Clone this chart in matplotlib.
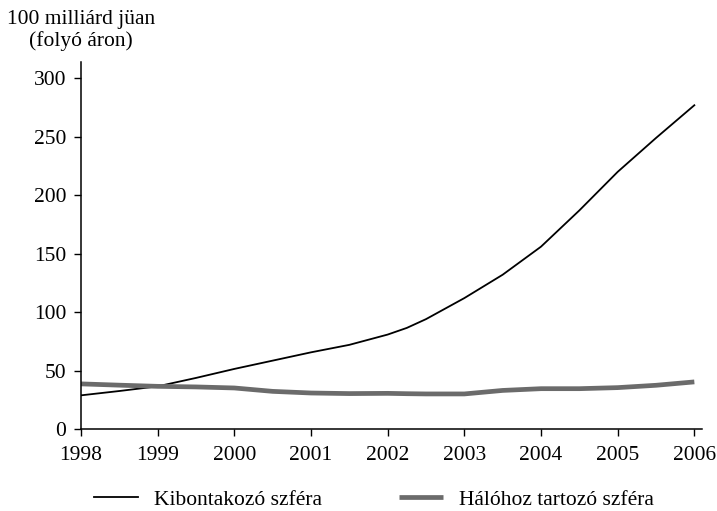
import matplotlib.pyplot as plt

plt.rcParams['font.family'] = ['Liberation Serif', 'DejaVu Serif']

# Values (half-year steps)
years = [1998, 1998.5, 1999, 1999.5, 2000, 2000.5, 2001, 2001.5, 2002,
         2002.25, 2002.5, 2003, 2003.5, 2004, 2004.5, 2005, 2005.5, 2006]
emerging = [28.8, 32.5, 36.5, 43.7, 51.4, 58.5, 65.6, 72, 80.8,
            86.5, 94, 112, 132, 156, 187, 220, 249, 277]
network = [38.6, 37.5, 36.5, 36.0, 35.1, 32.2, 30.8, 30.3, 30.5,
           30.2, 30.0, 30.0, 33.0, 34.5, 34.5, 35.4, 37.4, 40.3]

labels = ['Kibontakozó szféra', 'Hálóhoz tartozó szféra']
x_ticks = list(range(1998, 2007))
y_ticks = [0, 50, 100, 150, 200, 250, 300]

fs = 15.5

fig = plt.figure(figsize=(7.17, 5.11), dpi=100)
ax = fig.add_axes([81 / 717, 82 / 511, 621 / 717, 367 / 511])

ax.plot(years, emerging, color='black', linewidth=1.3, label=labels[0])
ax.plot(years, network, color='#6b6b6b', linewidth=3.4, label=labels[1],
        solid_capstyle='butt')

ax.set_xlim(1998, 2006.1)
ax.set_ylim(0, 314)
ax.set_xticks(x_ticks)
ax.set_yticks(y_ticks)
ax.tick_params(direction='out', length=5, width=1, labelsize=fs, colors='black')
ax.tick_params(axis='x', pad=7)
ax.tick_params(axis='y', pad=5.5)

for side in ['top', 'right']:
    ax.spines[side].set_visible(False)
for side in ['left', 'bottom']:
    ax.spines[side].set_linewidth(1.1)

fig.text(81 / 717, 1 - 10 / 511, '100 milliárd jüan\n(folyó áron)',
         ha='center', va='top', fontsize=fs, linespacing=1.15)

fig.legend(loc='center', bbox_to_anchor=(0.521, 1 - 500 / 511), ncol=2,
           frameon=False, fontsize=fs, handlelength=2.04, handletextpad=0.74,
           columnspacing=3.58, borderaxespad=0, borderpad=0)

fig.savefig('out.png', dpi=100)
